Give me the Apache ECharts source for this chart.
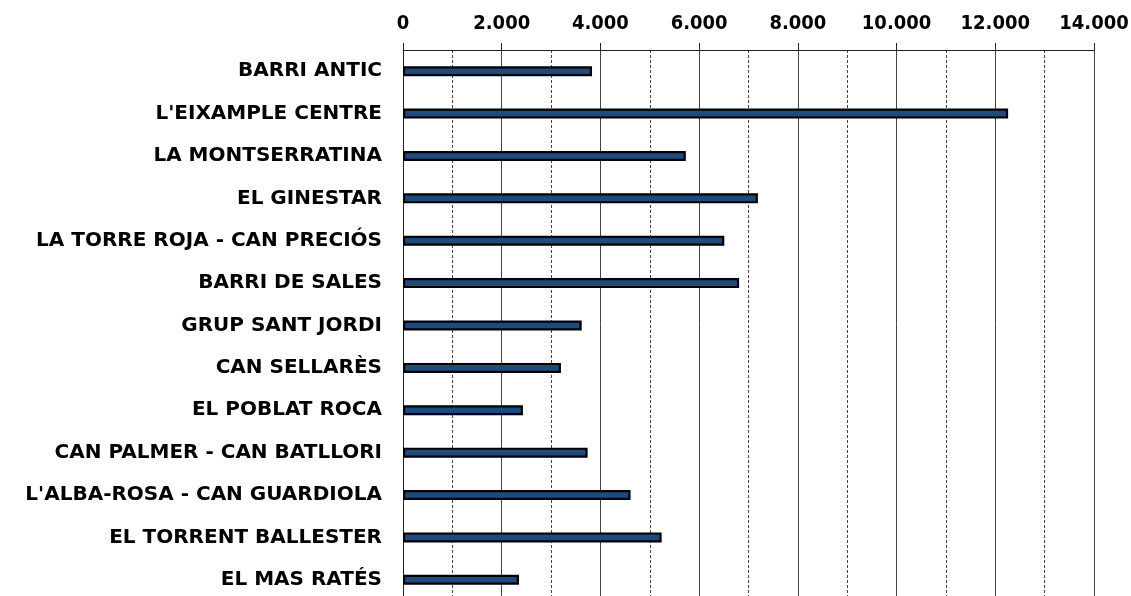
<!DOCTYPE html>
<html>
<head>
<meta charset="utf-8">
<script src="https://cdn.jsdelivr.net/npm/echarts@6/dist/echarts.min.js"></script>
<style>
    html, body {margin: 0; padding: 0; background: #fff;}
    #chart {width: 1131px; height: 596px;}
</style>
</head>
<body>
<div id="chart"></div>
<script>
    // barris, de dalt a baix
    let barris = ['BARRI ANTIC', "L'EIXAMPLE CENTRE", 'LA MONTSERRATINA', 'EL GINESTAR',
            'LA TORRE ROJA - CAN PRECIÓS', 'BARRI DE SALES', 'GRUP SANT JORDI', 'CAN SELLARÈS',
            'EL POBLAT ROCA', 'CAN PALMER - CAN BATLLORI', "L'ALBA-ROSA - CAN GUARDIOLA",
            'EL TORRENT BALLESTER', 'EL MAS RATÉS'],
        valors = [3830, 12260, 5730, 7190, 6510, 6810, 3620, 3200, 2430, 3740, 4610, 5240, 2350],
        eixMin = 0,
        eixMax = 14000,
        eixPas = 2000

    let fmt = v => String(v).replace(/\B(?=(\d{3})+(?!\d))/g, '.')

    let option = {
        animation: false,
        grid: {left: 403, top: 50, width: 691, height: 551, outerBoundsMode: 'none'},
        xAxis: {
            type: 'value',
            position: 'top',
            min: eixMin,
            max: eixMax,
            interval: eixPas,
            axisLine: {show: true, lineStyle: {color: '#222', width: 1}},
            axisTick: {show: true, inside: false, length: 7, lineStyle: {color: '#222'}},
            axisLabel: {
                margin: 16,
                color: '#000',
                fontFamily: 'DejaVu Sans Condensed',
                fontWeight: 'bold',
                fontSize: 20,
                formatter: fmt
            },
            splitLine: {show: true, lineStyle: {color: '#444', width: 1}},
            minorTick: {show: false, splitNumber: 2},
            minorSplitLine: {show: true, lineStyle: {color: '#444', width: 1, type: [3, 2]}}
        },
        yAxis: {
            type: 'category',
            inverse: true,
            data: barris,
            axisLine: {show: true, lineStyle: {color: '#222', width: 1}},
            axisTick: {show: false},
            axisLabel: {
                margin: 21,
                color: '#000',
                fontFamily: 'DejaVu Sans',
                fontWeight: 'bold',
                fontSize: 20
            },
            splitLine: {show: false}
        },
        series: [{
            type: 'bar',
            data: valors,
            barWidth: 10,
            itemStyle: {color: '#1f4a7e', borderColor: '#000', borderWidth: 2.2}
        }]
    }

    echarts.init(document.getElementById('chart')).setOption(option)
</script>
</body>
</html>
